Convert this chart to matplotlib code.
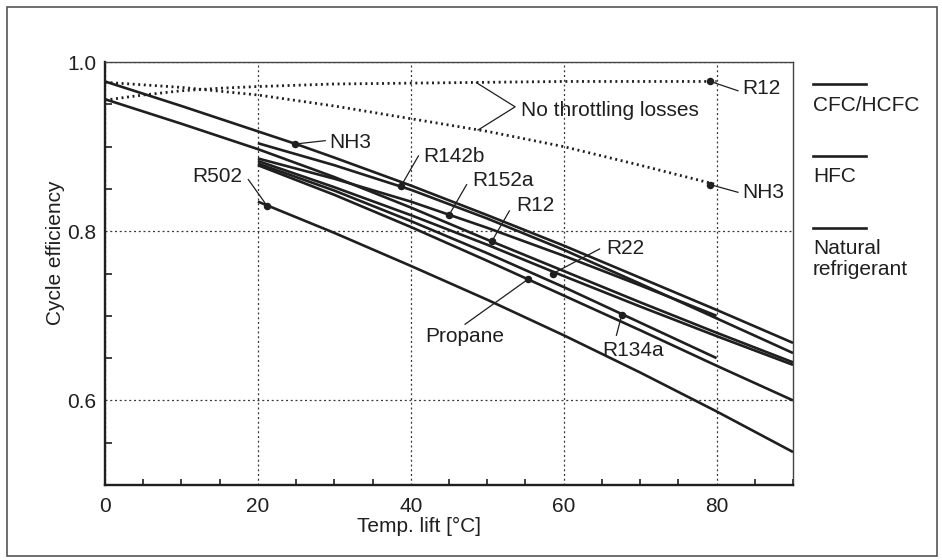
import numpy as np
import matplotlib
matplotlib.use("Agg")
import matplotlib.pyplot as plt
from matplotlib.lines import Line2D
from matplotlib.patches import Rectangle
from matplotlib.ticker import MultipleLocator, FixedLocator

plt.rcParams['font.family'] = ['Liberation Sans', 'DejaVu Sans']

# ---------------- data ----------------
groups = ["CFC/HCFC", "HFC", "Natural\nrefrigerant"]
group_colors = {"CFC/HCFC": "#1f1f1f", "HFC": "#1f1f1f", "Natural\nrefrigerant": "#1f1f1f"}

x_ticks = [0, 20, 40, 60, 80]
y_ticks = [0.6, 0.8, 1.0]
y_tick_labels = ["0.6", "0.8", "1.0"]

nh3_x = [0, 10, 20, 25, 30, 40, 50, 60, 70, 80, 90]
nh3_y = [0.977, 0.948, 0.918, 0.903, 0.887, 0.854, 0.819, 0.783, 0.745, 0.707, 0.668]

r12_x = [0, 10, 20, 30, 40, 50, 60, 70, 80, 90]
r12_y = [0.956, 0.927, 0.897, 0.864, 0.828, 0.790, 0.753, 0.716, 0.680, 0.645]

r142b_x = [20, 30, 40, 50, 60, 70, 80, 90]
r142b_y = [0.904, 0.878, 0.849, 0.815, 0.778, 0.738, 0.697, 0.656]

r152a_x = [20, 30, 40, 50, 60, 70, 80]
r152a_y = [0.886, 0.862, 0.835, 0.804, 0.771, 0.736, 0.700]

r22_x = [20, 30, 40, 50, 60, 70, 80, 90]
r22_y = [0.883, 0.852, 0.819, 0.784, 0.747, 0.711, 0.676, 0.642]

r134a_x = [20, 30, 40, 50, 60, 70, 80]
r134a_y = [0.880, 0.848, 0.812, 0.774, 0.734, 0.692, 0.650]

propane_x = [20, 30, 40, 50, 60, 70, 80, 90]
propane_y = [0.878, 0.843, 0.805, 0.765, 0.724, 0.683, 0.641, 0.600]

r502_x = [20, 30, 40, 50, 60, 70, 80, 90]
r502_y = [0.835, 0.798, 0.759, 0.719, 0.677, 0.633, 0.587, 0.539]

# ideal cycle (no throttling losses)
nh3_ideal_x = [0, 10, 20, 30, 40, 50, 60, 70, 80]
nh3_ideal_y = [0.976, 0.970, 0.961, 0.948, 0.933, 0.918, 0.900, 0.878, 0.855]
r12_ideal_x = [0, 5, 10, 15, 20, 30, 40, 60, 80]
r12_ideal_y = [0.955, 0.961, 0.966, 0.969, 0.971, 0.974, 0.975, 0.977, 0.977]

series_names = ["NH3", "R12", "R142b", "R152a", "R22", "R134a", "Propane", "R502"]
series_groups = ["Natural\nrefrigerant", "CFC/HCFC", "CFC/HCFC", "HFC",
                 "CFC/HCFC", "HFC", "Natural\nrefrigerant", "CFC/HCFC"]
series_x = [nh3_x, r12_x, r142b_x, r152a_x, r22_x, r134a_x, propane_x, r502_x]
series_y = [nh3_y, r12_y, r142b_y, r152a_y, r22_y, r134a_y, propane_y, r502_y]

# labelled points on curves
dot_labels = ["R12", "NH3", "NH3", "R142b", "R152a", "R12", "R22", "Propane", "R134a", "R502"]
dot_x = [79.2, 79.2, 24.8, 38.7, 45.0, 50.6, 58.6, 55.3, 67.6, 21.2]
dot_y = [0.977, 0.855, 0.903, 0.853, 0.819, 0.788, 0.750, 0.743, 0.701, 0.830]

# ---------------- layout ----------------
# (text x, text y, ha, va, leader end x, leader end y)
label_layout = [
    (83.4, 0.969, 'left', 'center', 82.8, 0.966),
    (83.3, 0.846, 'left', 'center', 82.8, 0.846),
    (29.3, 0.905, 'left', 'center', 28.8, 0.907),
    (41.6, 0.888, 'left', 'center', 41.0, 0.889),
    (48.0, 0.860, 'left', 'center', 47.3, 0.855),
    (53.8, 0.830, 'left', 'center', 52.9, 0.824),
    (65.6, 0.780, 'left', 'center', 64.7, 0.779),
    (47.0, 0.676, 'center', 'center', 47.1, 0.690),
    (65.0, 0.659, 'left', 'center', 66.9, 0.677),
    (18.0, 0.865, 'right', 'center', 18.75, 0.861),
]

INK = "#1f1f1f"
FS = 15

fig = plt.figure(figsize=(9.42, 5.6), dpi=100)
fig.patch.set_facecolor("white")
ax = fig.add_axes([105 / 942, 75 / 560, 688 / 942, 423 / 560])

# grid
ax.set_axisbelow(True)
ax.grid(True, which='major', color="#3a3a3a", linestyle=(0, (1.6, 2.2)), linewidth=0.9)

# curves
for xs, ys, g in zip(series_x, series_y, series_groups):
    ax.plot(xs, ys, color=group_colors[g], linewidth=1.9, solid_capstyle='butt',
            solid_joinstyle='round', zorder=3)

ax.plot(nh3_ideal_x, nh3_ideal_y, color=INK, linewidth=2.0, linestyle=(0, (0.7, 1.3)), zorder=3)
ax.plot(r12_ideal_x, r12_ideal_y, color=INK, linewidth=2.0, linestyle=(0, (0.7, 1.3)), zorder=3)

# dots, leaders and labels
ax.plot(dot_x, dot_y, 'o', color=INK, markersize=4.4, zorder=4)
for lab, dx, dy, lay in zip(dot_labels, dot_x, dot_y, label_layout):
    tx, ty, ha, va, lx, ly = lay
    ax.plot([dx, lx], [dy, ly], color=INK, linewidth=0.9, zorder=4)
    ax.text(tx, ty, lab, ha=ha, va=va, fontsize=FS, color=INK, zorder=5)

# "No throttling losses" bracket
ax.plot([48.6, 53.65, 48.8], [0.9755, 0.947, 0.9196], color=INK, linewidth=0.9, zorder=4)
ax.text(54.4, 0.943, "No throttling losses", ha='left', va='center', fontsize=FS, color=INK)

# axes
ax.set_xlim(0, 90)
ax.set_ylim(0.5, 1.0)
ax.xaxis.set_major_locator(FixedLocator(x_ticks))
ax.set_xticklabels([str(v) for v in x_ticks])
ax.yaxis.set_major_locator(FixedLocator(y_ticks))
ax.set_yticklabels(y_tick_labels)
ax.xaxis.set_minor_locator(MultipleLocator(5))
ax.yaxis.set_minor_locator(MultipleLocator(0.05))
ax.tick_params(which='major', length=0, labelsize=15, colors=INK)
ax.tick_params(axis='x', which='major', pad=9)
ax.tick_params(axis='y', which='major', pad=6)
ax.tick_params(axis='x', which='minor', direction='in', length=4.5, width=1.2, color=INK)
ax.tick_params(axis='y', which='minor', direction='in', length=5, width=1.2, color=INK)

for side in ['left', 'bottom']:
    ax.spines[side].set_linewidth(1.7)
    ax.spines[side].set_color(INK)
for side in ['top', 'right']:
    ax.spines[side].set_linewidth(1.0)
    ax.spines[side].set_color("#444444")

ax.set_xlabel("Temp. lift [°C]", fontsize=15, color=INK)
ax.xaxis.set_label_coords(0.456, -0.076)
ax.set_ylabel("Cycle efficiency", fontsize=15, color=INK)
ax.yaxis.set_label_coords(-0.058, 0.549)

# legend (manual, line above text)
leg_line_y = [1 - 84 / 560, 1 - 156 / 560, 1 - 228 / 560]
leg_text_top = [1 - 96 / 560, 1 - 167 / 560, 1 - 239 / 560]
for g, ly, tt in zip(groups, leg_line_y, leg_text_top):
    fig.add_artist(Line2D([813 / 942, 866 / 942], [ly, ly], transform=fig.transFigure,
                          color=group_colors[g], linewidth=1.9))
    fig.text(813 / 942, tt, g, ha='left', va='top', fontsize=15, color=INK, linespacing=1.15)

# outer frame
fig.add_artist(Rectangle((7 / 942, 4 / 560), 930 / 942, 549 / 560, transform=fig.transFigure,
                         fill=False, edgecolor="#555555", linewidth=1.2))

fig.savefig("out.png", dpi=100)
